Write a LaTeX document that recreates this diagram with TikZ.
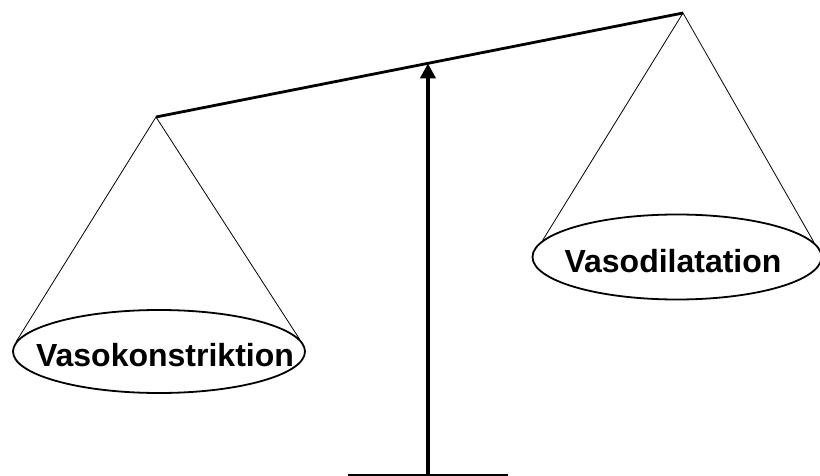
\documentclass[tikz,border=0pt]{standalone}
\usepackage{fontspec}
\setmainfont{Liberation Sans}
\usetikzlibrary{shapes.geometric, arrows.meta, calc}

\begin{document}
\begin{tikzpicture}[x=1pt, y=-1pt,
		pan/.style={draw, ellipse, line width=1.8pt, inner sep=0pt},
		cord/.style={line width=0.8pt},
		word/.style={font=\bfseries\fontsize{32}{38}\selectfont, inner sep=0pt}]
		\useasboundingbox (0,0) rectangle (820,476);
		
		\coordinate (lpiv) at (156,117);
		\coordinate (rpiv) at (683,13);
		\draw[line width=2.8pt] (lpiv) -- (rpiv); % beam
		
		% the two pans
		\node[pan, minimum width=292pt, minimum height=83pt] (lpan) at (159,351.5) {};
		\node[pan, minimum width=289pt, minimum height=85pt] (rpan) at (677,257) {};
		\node[word] (ltxt) at ([shift={(6,4)}]lpan.center) {Vasokonstriktion};
		\node[word] (rtxt) at ([shift={(-4,4)}]rpan.center) {Vasodilatation};
		
		% cords up to the beam
		\draw[cord] (lpan.176) -- (lpiv) -- (lpan.5);
		\draw[cord] (rpan.173) -- (rpiv) -- (rpan.6);
		
		% stand with the pointer
		\coordinate (pin) at ($(lpiv)!0.516!(rpiv)$);
		\coordinate (foot) at (pin |- 0,476);
		\draw[line width=1.6pt] ([xshift=-80pt, yshift=1pt]foot) -- ([xshift=80pt, yshift=1pt]foot);
		\draw[line width=4.5pt, -{Triangle[length=15pt, width=15pt]}] (foot) -- (pin);
	\end{tikzpicture}
\end{document}
